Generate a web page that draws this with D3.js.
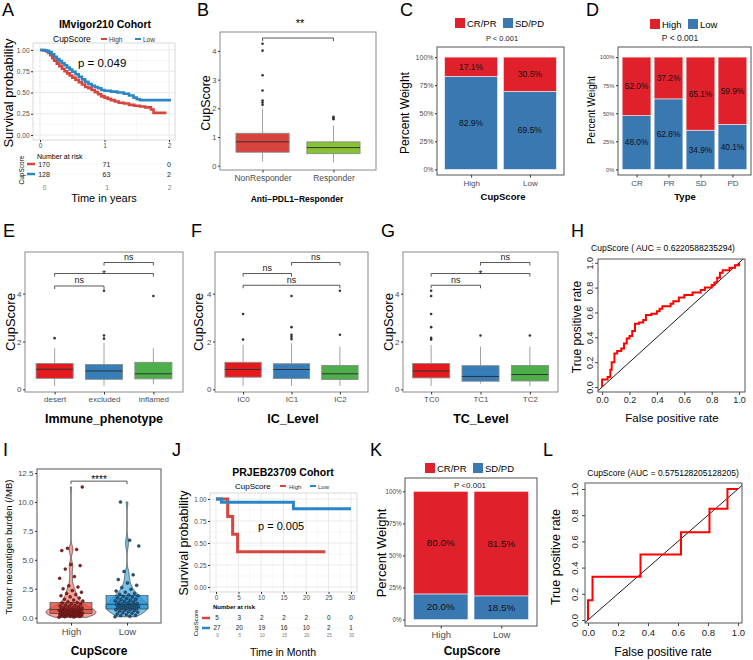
<!DOCTYPE html>
<html>
<head>
<meta charset="utf-8">
<script src="https://cdn.jsdelivr.net/npm/d3@7"></script>
<style>
body { margin: 0; background: #fff; }
</style>
</head>
<body>
<svg id="fig" width="753" height="660"></svg>
<script>
// ---------- data ----------
// A: IMvigor210 Kaplan-Meier
var aTimeHigh = [0, 0.05, 0.10, 0.13, 0.16, 0.19, 0.22, 0.26, 0.30, 0.34, 0.38, 0.42, 0.46, 0.50, 0.55, 0.60, 0.65, 0.70, 0.75, 0.80, 0.85, 0.90, 0.95, 1.00, 1.05, 1.10, 1.16, 1.22, 1.30, 1.38, 1.46, 1.55, 1.63, 1.72, 1.76, 1.96];
var aSurvHigh = [1, 0.994, 0.982, 0.965, 0.94, 0.905, 0.875, 0.84, 0.81, 0.78, 0.75, 0.725, 0.70, 0.675, 0.65, 0.62, 0.595, 0.565, 0.55, 0.53, 0.505, 0.48, 0.455, 0.44, 0.425, 0.41, 0.395, 0.38, 0.37, 0.355, 0.345, 0.335, 0.325, 0.30, 0.26, 0.26];
var aTimeLow = [0, 0.08, 0.14, 0.18, 0.22, 0.26, 0.30, 0.34, 0.38, 0.42, 0.46, 0.50, 0.55, 0.60, 0.65, 0.70, 0.75, 0.80, 0.85, 0.90, 0.95, 1.00, 1.10, 1.20, 1.30, 1.38, 1.45, 1.50, 1.55, 2.03];
var aSurvLow = [1, 0.992, 0.975, 0.95, 0.92, 0.895, 0.87, 0.845, 0.82, 0.795, 0.77, 0.745, 0.715, 0.685, 0.655, 0.625, 0.60, 0.58, 0.565, 0.55, 0.53, 0.52, 0.51, 0.50, 0.485, 0.465, 0.44, 0.42, 0.41, 0.41];
var aRiskTimes = [0, 1, 2];
var aRiskHigh = [170, 71, 0];
var aRiskLow = [128, 63, 2];

// B: CupScore by response
var bCats = ["NonResponder", "Responder"];
var bQ1 = [0.47, 0.42], bMed = [0.83, 0.63], bQ3 = [1.13, 0.83];
var bLow = [0.15, 0.12], bHigh = [2.0, 1.4];
var bOut = [[2.12, 2.2, 2.27, 2.62, 3.15, 4.01, 4.25], [1.62, 1.66, 1.70]];

// C: response share by CupScore group
var cCats = ["High", "Low"];
var cCRPR = [0.171, 0.305];
var cSDPD = [0.829, 0.695];

// D: CupScore group share by response type
var dCats = ["CR", "PR", "SD", "PD"];
var dHigh = [0.520, 0.372, 0.651, 0.599];
var dLow = [0.480, 0.628, 0.349, 0.401];

// E, F, G: boxplots
var eCats = ["desert", "excluded", "inflamed"];
var eQ1 = [0.46, 0.42, 0.44], eMed = [0.84, 0.77, 0.65], eQ3 = [1.08, 1.04, 1.13];
var eLow = [0.14, 0.14, 0.21], eHigh = [1.72, 1.93, 1.72];
var eOut = [[2.14], [2.12, 2.25, 4.12], [3.9]];
var eSig = [["desert", "excluded", 4.32, "ns"], ["desert", "inflamed", 4.84, "*"], ["excluded", "inflamed", 5.30, "ns"]];

var fCats = ["IC0", "IC1", "IC2"];
var fQ1 = [0.51, 0.45, 0.41], fMed = [0.83, 0.83, 0.65], fQ3 = [1.13, 1.07, 1.0];
var fLow = [0.14, 0.14, 0.14], fHigh = [1.86, 1.93, 1.79];
var fOut = [[2.08, 3.15], [2.1, 2.2, 2.28, 2.6, 3.9], [2.28, 4.12]];
var fSig = [["IC0", "IC2", 4.35, "ns"], ["IC0", "IC1", 4.84, "ns"], ["IC1", "IC2", 5.30, "ns"]];

var gCats = ["TC0", "TC1", "TC2"];
var gQ1 = [0.48, 0.34, 0.35], gMed = [0.77, 0.54, 0.62], gQ3 = [1.08, 0.99, 1.0];
var gLow = [0.14, 0.24, 0.14], gHigh = [1.86, 1.79, 1.79];
var gOut = [[2.08, 2.15, 2.6, 3.15, 3.9, 4.12], [2.25], [2.25]];
var gSig = [["TC0", "TC1", 4.35, "ns"], ["TC0", "TC2", 4.84, "*"], ["TC1", "TC2", 5.30, "ns"]];

// H: ROC (fpr where tpr steps up, tpr after the step)
var hFpr = [0, 0, 0.04, 0.06, 0.07, 0.09, 0.11, 0.14, 0.16, 0.18, 0.20, 0.22, 0.24, 0.27, 0.30, 0.32, 0.36, 0.40, 0.42, 0.44, 0.50, 0.52, 0.56, 0.60, 0.66, 0.72, 0.75, 0.80, 0.82, 0.84, 0.86, 0.88, 0.93, 0.97, 1.0];
var hTpr = [0, 0.06, 0.08, 0.14, 0.20, 0.27, 0.29, 0.31, 0.35, 0.39, 0.41, 0.45, 0.51, 0.52, 0.54, 0.58, 0.59, 0.61, 0.63, 0.65, 0.67, 0.69, 0.72, 0.74, 0.76, 0.78, 0.80, 0.82, 0.84, 0.88, 0.92, 0.94, 0.96, 0.98, 1.0];

// I: neoantigen burden
var iCats = ["High", "Low"];
var iHighVals = [0.03, 0.05, 0.08, 0.1, 0.12, 0.14, 0.15, 0.17, 0.19, 0.2, 0.22, 0.24, 0.25, 0.27, 0.28, 0.3, 0.31, 0.33, 0.35, 0.36, 0.38, 0.4, 0.41, 0.43, 0.45, 0.46, 0.48, 0.5, 0.52, 0.54, 0.55, 0.57, 0.6, 0.62, 0.64, 0.66, 0.68, 0.7, 0.73, 0.75, 0.78, 0.8, 0.83, 0.86, 0.9, 0.94, 0.98, 1.02, 1.06, 1.1, 1.15, 1.2, 1.26, 1.32, 1.38, 1.45, 1.52, 1.6, 1.7, 1.8, 1.9, 2.0, 2.1, 2.2, 2.35, 2.5, 2.65, 2.75, 3.4, 3.55, 4.2, 4.5, 4.6, 5.8, 5.9, 6.0, 11.3];
var iLowVals = [0.08, 0.12, 0.18, 0.22, 0.28, 0.32, 0.38, 0.42, 0.48, 0.52, 0.56, 0.6, 0.64, 0.68, 0.72, 0.75, 0.78, 0.82, 0.85, 0.88, 0.92, 0.95, 0.98, 1.02, 1.05, 1.08, 1.12, 1.15, 1.18, 1.22, 1.26, 1.3, 1.35, 1.4, 1.45, 1.5, 1.55, 1.6, 1.66, 1.72, 1.78, 1.85, 1.9, 1.96, 2.02, 2.1, 2.2, 2.3, 2.45, 2.6, 2.8, 3.0, 3.3, 3.7, 4.0, 6.2, 6.7, 10.0];
var iQ1 = [0.35, 0.75], iMed = [0.7, 1.15], iQ3 = [1.3, 1.9];
var iTicks = [0, 2.5, 5, 7.5, 10, 12.5];

// J: PRJEB23709 Kaplan-Meier
var jTimeHigh = [0, 2.6, 3.7, 4.8, 24.3];
var jSurvHigh = [1, 0.8, 0.6, 0.4, 0.4];
var jTimeLow = [0, 1.2, 17.2, 30];
var jSurvLow = [1, 0.963, 0.89, 0.89];
var jRiskTimes = [0, 5, 10, 15, 20, 25, 30];
var jRiskHigh = [5, 3, 2, 2, 2, 0, 0];
var jRiskLow = [27, 20, 19, 16, 10, 2, 1];

// K: response share by CupScore group (second cohort)
var kCats = ["High", "Low"];
var kCRPR = [0.800, 0.815];
var kSDPD = [0.200, 0.185];

// L: ROC
var lFpr = [0, 0, 0.03, 0.35, 0.62, 0.81, 0.93, 1.0];
var lTpr = [0, 0.15, 0.33, 0.50, 0.67, 0.85, 1.0, 1.0];

// ---------- drawing ----------
var FONT = 'Arial, "Liberation Sans", Helvetica, sans-serif';
var svg = d3.select("#fig").attr("font-family", FONT);
svg.append("rect").attr("width", 753).attr("height", 660).attr("fill", "#fff");
var fmtInt = d3.format("d");

function txt(x, y, s, size, o) {
	o = o || {};
	var t = svg.append("text").attr("x", x).attr("y", y).text(s)
		.attr("font-size", size)
		.attr("fill", o.fill || "#000")
		.attr("text-anchor", o.anchor || "start");
	if (o.bold) t.attr("font-weight", "bold");
	if (o.rot) t.attr("transform", "rotate(-90," + x + "," + y + ")");
	return t;
}

function axis(gen, tx, ty, size, fill, tickCol) {
	var a = svg.append("g").attr("transform", "translate(" + tx + "," + ty + ")").call(gen);
	a.attr("font-family", FONT).attr("font-size", size);
	a.select(".domain").remove();
	a.selectAll(".tick line").attr("stroke", tickCol || "#333");
	a.selectAll(".tick text").attr("fill", fill || "#4d4d4d");
	return a;
}

function frame(L, T, R, B, col, w) {
	svg.append("rect").attr("x", L).attr("y", T).attr("width", R - L).attr("height", B - T)
		.attr("fill", "none").attr("stroke", col).attr("stroke-width", w || 1);
}

// panel letters
[["A", 2, 16], ["B", 197, 16], ["C", 400, 16], ["D", 586, 16],
 ["E", 3, 237], ["F", 191, 237], ["G", 381, 237], ["H", 571, 237],
 ["I", 3, 456], ["J", 172, 456], ["K", 370, 456], ["L", 543, 456]].forEach(function(d) {
	txt(d[1], d[2], d[0], 18);
});

var KM_RED = "#d8453c", KM_BLUE = "#2a86c4";

function km(p) {
	var x = d3.scaleLinear().domain([0, p.xMax]).range([p.x0, p.x1]);
	var y = d3.scaleLinear().domain([0, 1]).range([p.yb, p.yt]);
	var g = svg.append("g");
	g.append("rect").attr("x", p.L).attr("y", p.T).attr("width", p.R - p.L).attr("height", p.B - p.T).attr("fill", "#fff");
	// grid
	d3.range(p.xStep / 2, p.xMax, p.xStep).forEach(function(v) {
		g.append("line").attr("x1", x(v)).attr("x2", x(v)).attr("y1", p.T).attr("y2", p.B).attr("stroke", "#f2f2f2").attr("stroke-width", 0.6);
	});
	[0.125, 0.375, 0.625, 0.875].forEach(function(v) {
		g.append("line").attr("x1", p.L).attr("x2", p.R).attr("y1", y(v)).attr("y2", y(v)).attr("stroke", "#f2f2f2").attr("stroke-width", 0.6);
	});
	p.xTicks.forEach(function(v) {
		g.append("line").attr("x1", x(v)).attr("x2", x(v)).attr("y1", p.T).attr("y2", p.B).attr("stroke", "#e4e4e4").attr("stroke-width", 0.8);
	});
	[0, 0.25, 0.5, 0.75, 1].forEach(function(v) {
		g.append("line").attr("x1", p.L).attr("x2", p.R).attr("y1", y(v)).attr("y2", y(v)).attr("stroke", "#e4e4e4").attr("stroke-width", 0.8);
	});
	frame(p.L, p.T, p.R, p.B, "#cfcfcf", 0.8);
	p.series.forEach(function(s) {
		var line = d3.line().x(function(i) { return x(s.t[i]); }).y(function(i) { return y(s.s[i]); }).curve(d3.curveStepAfter);
		svg.append("path").attr("d", line(d3.range(s.t.length))).attr("fill", "none")
			.attr("stroke", s.color).attr("stroke-width", p.lw);
	});
	axis(d3.axisLeft(y).tickValues([0, 0.25, 0.5, 0.75, 1]).tickFormat(d3.format(".2f")).tickSize(2).tickPadding(1.5), p.L, 0, p.tick, "#4d4d4d");
	axis(d3.axisBottom(x).tickValues(p.xTicks).tickFormat(fmtInt).tickSize(2).tickPadding(1.5), 0, p.B, p.tick, "#4d4d4d");
	// risk table (its own x range)
	var xr = d3.scaleLinear().domain([0, p.xMax]).range([p.rx0, p.rx1]);
	p.risk.forEach(function(row, r) {
		var yy = p.riskY[r];
		svg.append("line").attr("x1", p.L).attr("x2", p.R).attr("y1", yy).attr("y2", yy).attr("stroke", "#eeeeee").attr("stroke-width", 0.6);
		svg.append("line").attr("x1", p.riskLX).attr("x2", p.riskLX + 8).attr("y1", yy).attr("y2", yy)
			.attr("stroke", p.series[r].color).attr("stroke-width", 2.5);
		row.forEach(function(v, i) {
			txt(xr(p.riskT[i]), yy + p.riskSize * 0.36, v, p.riskSize, {anchor: "middle", fill: "#222"});
		});
	});
	axis(d3.axisBottom(xr).tickValues(p.riskT).tickFormat(fmtInt).tickSize(0).tickPadding(0), 0, p.riskAxisY, p.riskTick, "#777");
}

// ---- A
km({L: 33, R: 175, T: 43, B: 140, x0: 40, x1: 169, xMax: 2, xTicks: [0, 1, 2], xStep: 1, yb: 135, yt: 50,
	lw: 2.6, tick: 6.5,
	series: [{t: aTimeHigh, s: aSurvHigh, color: KM_RED}, {t: aTimeLow, s: aSurvLow, color: KM_BLUE}],
	risk: [aRiskHigh, aRiskLow], riskT: aRiskTimes, riskY: [164, 174], riskLX: 27, riskSize: 7,
	rx0: 44, rx1: 169, riskAxisY: 185, riskTick: 6.5});
txt(105, 28, "IMvigor210 Cohort", 10.5, {anchor: "middle", bold: true});
txt(53, 42, "CupScore", 8.5);
svg.append("line").attr("x1", 101).attr("x2", 107).attr("y1", 39).attr("y2", 39).attr("stroke", KM_RED).attr("stroke-width", 2);
txt(109, 41.5, "High", 6.5, {fill: "#333"});
svg.append("line").attr("x1", 135).attr("x2", 141).attr("y1", 39).attr("y2", 39).attr("stroke", KM_BLUE).attr("stroke-width", 2);
txt(143, 41.5, "Low", 6.5, {fill: "#333"});
txt(78, 67, "p = 0.049", 11.5);
txt(13, 93, "Survival probability", 13, {anchor: "middle", rot: true});
txt(37, 159, "Number at risk", 7);
txt(24, 170, "CupScore", 6.5, {anchor: "middle", rot: true});
txt(104, 202, "Time in years", 11, {anchor: "middle"});

// ---- J
km({L: 210, R: 357, T: 493, B: 592, x0: 216, x1: 351, xMax: 30, xTicks: [0, 5, 10, 15, 20, 25, 30], xStep: 5, yb: 587, yt: 499,
	lw: 3, tick: 6.3,
	series: [{t: jTimeHigh, s: jSurvHigh, color: KM_RED}, {t: jTimeLow, s: jSurvLow, color: KM_BLUE}],
	risk: [jRiskHigh, jRiskLow], riskT: jRiskTimes, riskY: [618, 628], riskLX: 202, riskSize: 6.3,
	rx0: 217, rx1: 351, riskAxisY: 634, riskTick: 4.5});
txt(283, 476, "PRJEB23709 Cohort", 10.5, {anchor: "middle", bold: true});
txt(235, 489, "CupScore", 8);
svg.append("line").attr("x1", 280).attr("x2", 286).attr("y1", 486).attr("y2", 486).attr("stroke", KM_RED).attr("stroke-width", 2);
txt(289, 488.5, "High", 6, {fill: "#333"});
svg.append("line").attr("x1", 310).attr("x2", 316).attr("y1", 486).attr("y2", 486).attr("stroke", KM_BLUE).attr("stroke-width", 2);
txt(318, 488.5, "Low", 6, {fill: "#333"});
txt(258, 530, "p = 0.005", 11);
txt(188, 543, "Survival probability", 12.5, {anchor: "middle", rot: true});
txt(213, 609, "Number at risk", 6, {bold: true});
txt(198, 623, "CupScore", 6, {anchor: "middle", rot: true});
txt(283, 656, "Time in Month", 10.5, {anchor: "middle"});

// ---------- boxplots ----------
function boxPanel(p) {
	var x = d3.scalePoint().domain(p.cats).range([p.L, p.R]).padding(p.pad);
	var y = d3.scaleLinear().domain(p.yDom).range([p.B, p.T]);
	var bw = x.step() * 0.75;
	frame(p.L, p.T, p.R, p.B, "#8a8a8a", 1);
	p.cats.forEach(function(c, i) {
		var cx = x(c);
		svg.append("line").attr("x1", cx).attr("x2", cx).attr("y1", y(p.lo[i])).attr("y2", y(p.q1[i])).attr("stroke", "#8a8a8a").attr("stroke-width", 0.8);
		svg.append("line").attr("x1", cx).attr("x2", cx).attr("y1", y(p.q3[i])).attr("y2", y(p.hi[i])).attr("stroke", "#8a8a8a").attr("stroke-width", 0.8);
		svg.append("rect").attr("x", cx - bw / 2).attr("y", y(p.q3[i])).attr("width", bw).attr("height", y(p.q1[i]) - y(p.q3[i]))
			.attr("fill", p.colors[i]).attr("stroke", "#8a8a8a").attr("stroke-width", 0.9);
		svg.append("line").attr("x1", cx - bw / 2).attr("x2", cx + bw / 2).attr("y1", y(p.med[i])).attr("y2", y(p.med[i]))
			.attr("stroke", "#333").attr("stroke-width", 1);
		p.out[i].forEach(function(v) {
			svg.append("circle").attr("cx", cx).attr("cy", y(v)).attr("r", 1.3).attr("fill", "#333");
		});
	});
	(p.sig || []).forEach(function(s) {
		var x1 = x(s[0]), x2 = x(s[1]), yy = y(s[2]);
		svg.append("path").attr("d", "M" + x1 + "," + (yy + 3) + "V" + yy + "H" + x2 + "V" + (yy + 3))
			.attr("fill", "none").attr("stroke", "#444").attr("stroke-width", 0.9);
		if (s[3] == "ns") txt((x1 + x2) / 2, yy - 2.5, "ns", 9, {anchor: "middle", fill: "#222"});
		else txt((x1 + x2) / 2, yy + 4, s[3], 10, {anchor: "middle", fill: "#222"});
	});
	axis(d3.axisLeft(y).tickValues(p.yTicks).tickFormat(fmtInt).tickSize(2).tickPadding(1.5), p.L, 0, p.tick, "#4d4d4d");
	axis(d3.axisBottom(x).tickSize(2.5).tickPadding(2), 0, p.B, p.xTick, "#4d4d4d");
	return {x: x, y: y};
}

// ---- B
var bAx = boxPanel({cats: bCats, L: 220, R: 376, T: 32, B: 170, pad: 0.6, yDom: [-0.15, 4.66], yTicks: [0, 1, 2, 3, 4],
	q1: bQ1, med: bMed, q3: bQ3, lo: bLow, hi: bHigh, out: bOut, colors: ["#d8433b", "#86c232"], tick: 7.5, xTick: 8.5});
svg.append("path").attr("d", "M" + bAx.x(bCats[0]) + "," + (bAx.y(4.45) + 3) + "V" + bAx.y(4.45) + "H" + bAx.x(bCats[1]) + "V" + (bAx.y(4.45) + 3))
	.attr("fill", "none").attr("stroke", "#444").attr("stroke-width", 0.9);
txt(300, 27, "**", 11, {anchor: "middle"});
txt(210, 103, "CupScore", 12.5, {anchor: "middle", rot: true});
txt(297, 202, "Anti\u2212PDL1\u2212Responder", 8.5, {anchor: "middle", bold: true});

// ---- E, F, G
var SET1 = ["#e41a1c", "#377eb8", "#4daf4a"];
boxPanel({cats: eCats, L: 25, R: 183, T: 252, B: 392, pad: 0.6, yDom: [-0.11, 5.74], yTicks: [0, 2, 4],
	q1: eQ1, med: eMed, q3: eQ3, lo: eLow, hi: eHigh, out: eOut, sig: eSig, colors: SET1, tick: 8, xTick: 8});
txt(15, 322, "CupScore", 13, {anchor: "middle", rot: true});
txt(104, 423, "Immune_phenotype", 12.5, {anchor: "middle", bold: true});

boxPanel({cats: fCats, L: 215, R: 368, T: 252, B: 392, pad: 0.58, yDom: [-0.11, 5.74], yTicks: [0, 2, 4],
	q1: fQ1, med: fMed, q3: fQ3, lo: fLow, hi: fHigh, out: fOut, sig: fSig, colors: SET1, tick: 8, xTick: 8});
txt(203, 322, "CupScore", 13, {anchor: "middle", rot: true});
txt(293, 423, "IC_Level", 12.5, {anchor: "middle", bold: true});

boxPanel({cats: gCats, L: 403, R: 558, T: 252, B: 392, pad: 0.57, yDom: [-0.11, 5.74], yTicks: [0, 2, 4],
	q1: gQ1, med: gMed, q3: gQ3, lo: gLow, hi: gHigh, out: gOut, sig: gSig, colors: SET1, tick: 8, xTick: 8});
txt(393, 322, "CupScore", 13, {anchor: "middle", rot: true});
txt(481, 423, "TC_Level", 12.5, {anchor: "middle", bold: true});

// ---------- stacked percentage bars ----------
var BAR_RED = "#e0202a", BAR_BLUE = "#3a78b2";
function stackPanel(p) {
	var x = d3.scalePoint().domain(p.cats).range([p.L, p.R]).padding(p.pad);
	var y = d3.scaleLinear().domain(p.yDom).range([p.B, p.T]);
	var w = x.step() * 0.9;
	svg.append("rect").attr("x", p.L).attr("y", p.T).attr("width", p.R - p.L).attr("height", p.B - p.T)
		.attr("fill", "#fff").attr("stroke", "#555").attr("stroke-width", 1);
	p.cats.forEach(function(c, i) {
		var cx = x(c), split = p.bottom[i];
		svg.append("rect").attr("x", cx - w / 2).attr("y", y(split)).attr("width", w).attr("height", y(0) - y(split))
			.attr("fill", BAR_BLUE).attr("stroke", "#eef2f8").attr("stroke-width", 0.6);
		svg.append("rect").attr("x", cx - w / 2).attr("y", y(1)).attr("width", w).attr("height", y(split) - y(1))
			.attr("fill", BAR_RED).attr("stroke", "#f8e8e8").attr("stroke-width", 0.6);
		var f = d3.format(".1%");
		txt(cx, y(split / 2) + p.lab * 0.36, f(p.bottom[i]), p.lab, {anchor: "middle", fill: "#111"});
		txt(cx, y((1 + split) / 2) + p.lab * 0.36, f(p.top[i]), p.lab, {anchor: "middle", fill: "#111"});
	});
	axis(d3.axisLeft(y).tickValues([0, 0.25, 0.5, 0.75, 1]).tickFormat(d3.format(".0%")).tickSize(2).tickPadding(1.5), p.L, 0, p.tick, "#4d4d4d");
	axis(d3.axisBottom(x).tickSize(2.5).tickPadding(2.5), 0, p.B, p.xTick, "#4d4d4d");
	// legend
	svg.append("rect").attr("x", p.leg[0]).attr("y", p.leg[2]).attr("width", 10).attr("height", 10).attr("fill", BAR_RED);
	txt(p.leg[0] + 12, p.leg[2] + 9, p.legText[0], 9.5);
	svg.append("rect").attr("x", p.leg[1]).attr("y", p.leg[2]).attr("width", 10).attr("height", 10).attr("fill", BAR_BLUE);
	txt(p.leg[1] + 12, p.leg[2] + 9, p.legText[1], 9.5);
}

// ---- C
stackPanel({cats: cCats, L: 437, R: 564, T: 47, B: 175, pad: 0.58, yDom: [-0.05, 1.09],
	bottom: cSDPD, top: cCRPR, lab: 8.5, tick: 7, xTick: 8, leg: [455, 503, 18], legText: ["CR/PR", "SD/PD"]});
txt(502, 41, "P < 0.001", 7.5, {anchor: "middle", fill: "#222"});
txt(409, 113, "Percent Weight", 12, {anchor: "middle", rot: true});
txt(503, 200, "CupScore", 9.5, {anchor: "middle", bold: true});

// ---- D
stackPanel({cats: dCats, L: 618, R: 751, T: 47, B: 175, pad: 0.58, yDom: [-0.05, 1.09],
	bottom: dLow, top: dHigh, lab: 8.3, tick: 5.8, xTick: 8, leg: [650, 688, 19], legText: ["High", "Low"]});
txt(680, 41, "P < 0.001", 8.5, {anchor: "middle", fill: "#222"});
txt(595, 110, "Percent Weight", 10, {anchor: "middle", rot: true});
txt(685, 200, "Type", 9.5, {anchor: "middle", bold: true});

// ---- K
stackPanel({cats: kCats, L: 405, R: 537, T: 478, B: 626, pad: 0.59, yDom: [-0.05, 1.104],
	bottom: kSDPD, top: kCRPR, lab: 9.8, tick: 6.3, xTick: 9.5, leg: [425, 473, 463], legText: ["CR/PR", "SD/PD"]});
txt(470, 488, "P <0.001", 8, {anchor: "middle", fill: "#222"});
txt(386, 553, "Percent Weight", 13, {anchor: "middle", rot: true});
txt(472, 655, "CupScore", 12, {anchor: "middle", bold: true});

// ---------- ROC ----------
function rocPanel(p) {
	var x = d3.scaleLinear().domain(p.xDom).range([p.L, p.R]);
	var y = d3.scaleLinear().domain(p.yDom).range([p.B, p.T]);
	var id = "clip" + p.L;
	svg.append("clipPath").attr("id", id).append("rect").attr("x", p.L).attr("y", p.T).attr("width", p.R - p.L).attr("height", p.B - p.T);
	var g = svg.append("g").attr("clip-path", "url(#" + id + ")");
	g.append("line").attr("x1", x(p.xDom[0])).attr("y1", y(p.xDom[0])).attr("x2", x(p.xDom[1])).attr("y2", y(p.xDom[1]))
		.attr("stroke", "#000").attr("stroke-width", 0.9);
	var line = d3.line().x(function(i) { return x(p.fpr[i]); }).y(function(i) { return y(p.tpr[i]); }).curve(d3.curveStepAfter);
	svg.append("path").attr("d", line(d3.range(p.fpr.length))).attr("fill", "none").attr("stroke", "#ff0000").attr("stroke-width", 2);
	frame(p.L, p.T, p.R, p.B, "#444", 0.9);
	var ticks = [0, 0.2, 0.4, 0.6, 0.8, 1];
	axis(d3.axisBottom(x).tickValues(ticks).tickFormat(d3.format(".1f")).tickSize(3).tickPadding(p.xPad), 0, p.B, p.tick, "#222", "#444");
	var ya = axis(d3.axisLeft(y).tickValues(ticks).tickFormat(d3.format(".1f")).tickSize(3), p.L, 0, p.tick, "#222", "#444");
	ya.selectAll(".tick text").attr("transform", "rotate(-90)").attr("text-anchor", "middle")
		.attr("x", 0).attr("y", -p.yPad).attr("dy", 0);
}

// ---- H
rocPanel({L: 598, R: 745, T: 259, B: 392, xDom: [-0.03, 1.043], yDom: [-0.04, 1.03], fpr: hFpr, tpr: hTpr,
	tick: 9, xPad: 2, yPad: 5});
txt(663, 251, "CupScore ( AUC =  0.6220588235294)", 8.5, {anchor: "middle"});
txt(672, 422, "False positive rate", 11.5, {anchor: "middle"});
txt(581, 327, "True positive rate", 12, {anchor: "middle", rot: true});

// ---- L
rocPanel({L: 585, R: 742, T: 483, B: 623, xDom: [-0.02, 1.027], yDom: [-0.023, 1.046], fpr: lFpr, tpr: lTpr,
	tick: 9.5, xPad: 3.5, yPad: 7});
txt(663, 476, "CupScore (AUC =  0.575128205128205)", 8.5, {anchor: "middle"});
txt(663, 656, "False positive rate", 12, {anchor: "middle"});
txt(560, 557, "True positive rate", 12.5, {anchor: "middle", rot: true});

// ---------- I: violin + box + points ----------
var iY = d3.scaleLinear().domain([-0.46, 12.85]).range([623, 469]);
function violinPanel() {
	var L = 37, R = 161, T = 469, B = 623;
	var xs = d3.scalePoint().domain(iCats).range([L, R]).padding(0.607);
	var ys = iY;
	frame(L, T, R, B, "#555", 1);
	var groups = [iHighVals, iLowVals];
	var violinFill = ["#f3a39b", "#7cc3ea"], boxFill = ["rgba(226,75,65,0.8)", "rgba(40,150,215,0.8)"];
	var ptFill = ["#9b1b1b", "#1b5a8c"], halfW = [25, 21];
	groups.forEach(function(vals, gi) {
		var cx = xs(iCats[gi]);
		var s = vals.slice().sort(d3.ascending);
		var iqr = (d3.quantile(s, 0.75) - d3.quantile(s, 0.25)) / 1.34;
		var bw = 0.9 * Math.min(d3.deviation(s), iqr) * Math.pow(s.length, -0.2);
		var grid = d3.range(s[0], s[s.length - 1], 0.04).concat([s[s.length - 1]]);
		var dens = grid.map(function(v) {
			return d3.mean(s, function(d) { var z = (v - d) / bw; return Math.exp(-0.5 * z * z); });
		});
		var k = halfW[gi] / d3.max(dens);
		var area = d3.area().x0(function(d, i) { return cx - dens[i] * k; }).x1(function(d, i) { return cx + dens[i] * k; })
			.y(function(d) { return ys(d); });
		svg.append("path").attr("d", area(grid)).attr("fill", violinFill[gi]).attr("stroke", "#222").attr("stroke-width", 0.6);
		var w = xs.step() * 0.75;
		svg.append("rect").attr("x", cx - w / 2).attr("y", ys(iQ3[gi])).attr("width", w).attr("height", ys(iQ1[gi]) - ys(iQ3[gi]))
			.attr("fill", boxFill[gi]).attr("stroke", "#333").attr("stroke-width", 0.6);
		svg.append("line").attr("x1", cx - w / 2).attr("x2", cx + w / 2).attr("y1", ys(iMed[gi])).attr("y2", ys(iMed[gi]))
			.attr("stroke", "#333").attr("stroke-width", 0.8);
		s.forEach(function(v, i) {
			var jit = ((i * 0.6180339887) % 1 - 0.5) * 24;
			svg.append("circle").attr("cx", cx + jit).attr("cy", ys(v)).attr("r", 1.5)
				.attr("fill", ptFill[gi]).attr("stroke", "#111").attr("stroke-width", 0.4);
		});
	});
	var by = ys(11.8);
	svg.append("path").attr("d", "M" + xs(iCats[0]) + "," + (by + 3) + "V" + by + "H" + xs(iCats[1]) + "V" + (by + 3))
		.attr("fill", "none").attr("stroke", "#444").attr("stroke-width", 0.9);
	txt((xs(iCats[0]) + xs(iCats[1])) / 2, by + 2, "****", 10, {anchor: "middle"});
	axis(d3.axisBottom(xs).tickSize(2.5).tickPadding(3), 0, B, 9.5, "#4d4d4d");
}
violinPanel();
// y axis of I
axis(d3.axisLeft(iY).tickValues(iTicks).tickFormat(d3.format(".1f")).tickSize(2).tickPadding(1.5), 37, 0, 8, "#4d4d4d", "#333");
txt(12, 547, "Tumor neoantigen burden (/MB)", 9.5, {anchor: "middle", rot: true});
txt(99, 655, "CupScore", 12, {anchor: "middle", bold: true});
</script>
</body>
</html>
